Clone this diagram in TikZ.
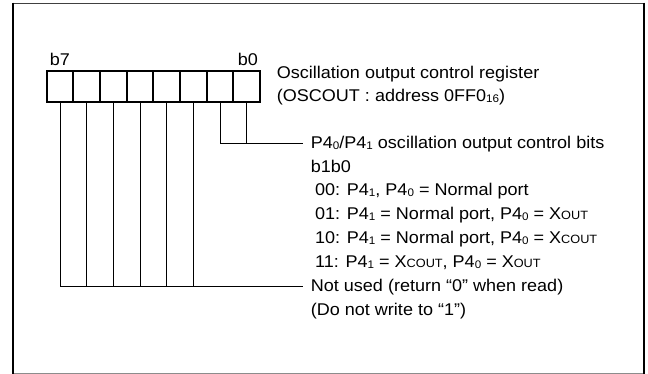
\documentclass[tikz,border=0pt]{standalone}
\usepackage{fontspec}
\setmainfont[FakeStretch=1.06]{Liberation Sans}
\newcommand\lsub[1]{\raisebox{-1pt}{\fontsize{11}{11}\selectfont #1}}
\newcommand\lsc[1]{{\fontsize{12}{12}\selectfont #1}}
\begin{document}
\begin{tikzpicture}[x=1pt,y=-1pt,
  cell/.style={draw, line width=1.8pt, minimum width=26.67pt, minimum height=31pt, inner sep=0pt, anchor=center},
  lbl/.style={font=\fontsize{17}{21}\selectfont, anchor=base west, inner sep=0pt},
  bitlbl/.style={font=\fontsize{17}{21}\selectfont, anchor=base, inner sep=0pt},
  conn/.style={line width=0.8pt}]
\useasboundingbox (0,0) rectangle (648,374);
% frame
\draw[line width=1.3pt, black!75] (12,3.3) -- (645,3.3);
\draw[line width=1.1pt, black!45] (13,373.3) -- (644,373.3);
\draw[line width=2.7pt] (13,2.6) -- (13,374);
\draw[line width=2.3pt] (643.8,2.6) -- (643.8,374);
% register cells
\foreach \j in {7,...,0} {
  \node[cell] (c\j) at ({60+(7-\j)*26.67},86.2) {};
}
\node[bitlbl] (lb7) at (60,65.5) {b7};
\node[bitlbl] (lb0) at (248,65.5) {b0};
% texts
\node[lbl] (t1) at (276.7,79) {Oscillation output control register};
\node[lbl] (t2) at (276.7,102) {(OSCOUT : address 0FF0\lsub{16})};
\node[lbl] (t3) at (310.7,149) {P4\lsub{0}/P4\lsub{1} oscillation output control bits};
\node[lbl] (t4) at (310.7,172.5) {b1b0};
\node[lbl] (t5) at (315,196) {00: P4\lsub{1}, P4\lsub{0} = Normal port};
\node[lbl] (t6) at (315,220) {01: P4\lsub{1} = Normal port, P4\lsub{0} = X\lsc{OUT}};
\node[lbl] (t7) at (315,243.5) {10: P4\lsub{1} = Normal port, P4\lsub{0} = X\lsc{COUT}};
\node[lbl] (t8) at (315,267.5) {11: P4\lsub{1} = X\lsc{COUT}, P4\lsub{0} = X\lsc{OUT}};
\node[lbl] (t9) at (310.7,291.5) {Not used (return “0” when read)};
\node[lbl] (t10) at (310.7,315) {(Do not write to “1”)};
% connector ends
\coordinate (e1) at (303,143.3);
\coordinate (e2) at (303,286.7);
% connectors
\draw[conn] (c1.south) |- (e1);
\draw[conn] (c0.south) -- (c0.south |- e1);
\draw[conn] (c7.south) |- (e2);
\foreach \j in {6,...,2} {
  \draw[conn] (c\j.south) -- (c\j.south |- e2);
}
\end{tikzpicture}
\end{document}
